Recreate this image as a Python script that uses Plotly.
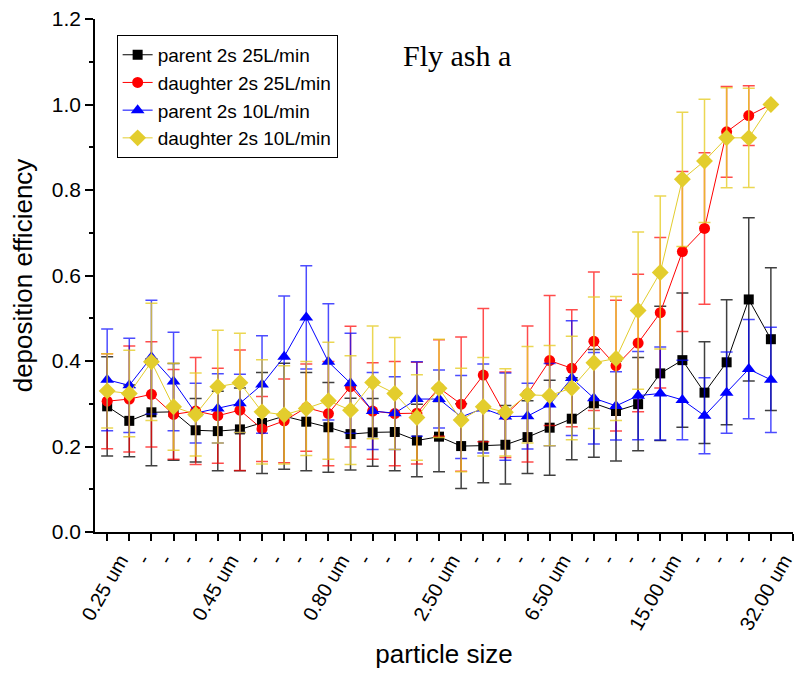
import plotly.graph_objects as go

# ---- data ----
size_labels = ["0.25 um", "-", "-", "-", "-",
               "0.45 um", "-", "-", "-", "-",
               "0.80 um", "-", "-", "-", "-",
               "2.50 um", "-", "-", "-", "-",
               "6.50 um", "-", "-", "-", "-",
               "15.00 um", "-", "-", "-", "-",
               "32.00 um", "-"]

parent_25 = [0.294, 0.260, 0.280, 0.281, 0.238, 0.236, 0.240, 0.255, 0.271, 0.258,
             0.245, 0.229, 0.233, 0.234, 0.214, 0.223, 0.201, 0.202, 0.204, 0.222,
             0.244, 0.265, 0.301, 0.283, 0.299, 0.371, 0.402, 0.326, 0.397, 0.544, 0.451]
parent_25_err = [0.116, 0.084, 0.125, 0.113, 0.074, 0.093, 0.097, 0.118, 0.124, 0.115,
                 0.105, 0.084, 0.079, 0.091, 0.085, 0.082, 0.099, 0.087, 0.092, 0.085,
                 0.111, 0.096, 0.126, 0.117, 0.109, 0.157, 0.157, 0.119, 0.146, 0.191, 0.167]

daughter_25 = [0.306, 0.311, 0.322, 0.275, 0.283, 0.272, 0.285, 0.241, 0.260, 0.291,
               0.277, 0.340, 0.283, 0.277, 0.278, 0.337, 0.299, 0.367, 0.274, 0.323,
               0.401, 0.383, 0.446, 0.389, 0.442, 0.513, 0.656, 0.710, 0.936, 0.974, 1.000]
daughter_25_err = [0.111, 0.124, 0.123, 0.105, 0.125, 0.111, 0.141, 0.076, 0.098, 0.102,
                   0.122, 0.141, 0.113, 0.122, 0.119, 0.113, 0.157, 0.156, 0.100, 0.159,
                   0.152, 0.137, 0.162, 0.153, 0.161, 0.176, 0.187, 0.177, 0.106, 0.070, 0.0]

parent_10 = [0.356, 0.343, 0.409, 0.352, 0.278, 0.289, 0.301, 0.345, 0.410, 0.502,
             0.398, 0.348, 0.283, 0.278, 0.311, 0.311, 0.269, 0.289, 0.270, 0.271,
             0.298, 0.360, 0.313, 0.295, 0.319, 0.324, 0.309, 0.272, 0.326, 0.381, 0.356]
parent_10_err = [0.119, 0.110, 0.133, 0.115, 0.070, 0.081, 0.068, 0.114, 0.142, 0.121,
                 0.136, 0.117, 0.090, 0.085, 0.087, 0.068, 0.097, 0.104, 0.102, 0.077,
                 0.096, 0.134, 0.107, 0.080, 0.103, 0.109, 0.093, 0.089, 0.095, 0.116, 0.123]

daughter_10 = [0.330, 0.324, 0.398, 0.293, 0.275, 0.340, 0.349, 0.281, 0.274, 0.289,
               0.307, 0.285, 0.350, 0.324, 0.268, 0.336, 0.262, 0.293, 0.280, 0.321,
               0.319, 0.337, 0.396, 0.406, 0.518, 0.607, 0.825, 0.868, 0.922, 0.922, 1.000]
daughter_10_err = [0.087, 0.101, 0.137, 0.102, 0.097, 0.132, 0.116, 0.122, 0.115, 0.110,
                   0.137, 0.127, 0.132, 0.131, 0.100, 0.115, 0.121, 0.115, 0.102, 0.113,
                   0.117, 0.121, 0.154, 0.145, 0.184, 0.179, 0.157, 0.144, 0.117, 0.116, 0.0]

x_idx = list(range(len(parent_25)))
tick_idx = list(range(len(size_labels)))

series = [
    ("parent 2s 25L/min", parent_25, parent_25_err, "#000000", "rgba(0,0,0,0.75)", "square", 10),
    ("daughter 2s 25L/min", daughter_25, daughter_25_err, "#FF0000", "rgba(255,0,0,0.7)", "circle", 11),
    ("parent 2s 10L/min", parent_10, parent_10_err, "#0000FF", "rgba(0,0,255,0.7)", "triangle-up", 12),
    ("daughter 2s 10L/min", daughter_10, daughter_10_err, "#E3CD2D", "rgba(230,205,40,0.8)", "diamond", 13),
]

fig = go.Figure()
for name, y, err, col, ecol, sym, sz in series:
    fig.add_trace(go.Scatter(
        x=x_idx, y=y, name=name, mode="lines+markers",
        line=dict(color=col, width=1),
        marker=dict(symbol=sym, size=sz, color=col, line=dict(width=0)),
        error_y=dict(type="data", array=err, visible=True, color=ecol,
                     thickness=1.5, width=6),
    ))

font_sans = "Liberation Sans, Arial, sans-serif"

# page body adds an 8px margin, so the figure is 8px smaller than the window
fig.update_layout(
    width=801, height=665,
    margin=dict(l=87, r=16, t=11, b=141),
    paper_bgcolor="white", plot_bgcolor="white",
    font=dict(family=font_sans, color="black", size=20),
    showlegend=True,
    legend=dict(x=0.031, y=0.969, xanchor="left", yanchor="top",
                bordercolor="black", borderwidth=1, bgcolor="white",
                font=dict(family=font_sans, size=19, color="black"),
                tracegroupgap=0),
    xaxis=dict(
        range=[-0.55, 31.0], automargin=False, ticklabeloverflow="allow",
        tickmode="array", tickvals=tick_idx, ticktext=size_labels,
        tickangle=-60, ticklabelshift=13, ticks="outside", ticklen=7, tickwidth=1.5,
        tickcolor="black", showline=True, linecolor="black", linewidth=1.5,
        showgrid=False, zeroline=False,
        tickfont=dict(family=font_sans, size=20, color="black"),
        title=dict(text="particle size", font=dict(family=font_sans, size=26),
                   standoff=12),
    ),
    yaxis=dict(
        range=[0, 1.2], dtick=0.2, tick0=0, tickformat=".1f", automargin=False,
        ticklabeloverflow="allow",
        ticks="outside", ticklen=8, tickwidth=1.5, tickcolor="black",
        showline=True, linecolor="black", linewidth=1.5,
        showgrid=False, zeroline=False,
        minor=dict(dtick=0.1, ticks="outside", ticklen=4, tickwidth=1.5,
                   tickcolor="black", showgrid=False),
        tickfont=dict(family=font_sans, size=21, color="black"),
        title=dict(text="deposition efficiency", font=dict(family=font_sans, size=26),
                   standoff=16),
    ),
    annotations=[dict(text="Fly ash a", x=0.519, y=0.928, xref="paper", yref="paper",
                      xanchor="center", yanchor="middle", showarrow=False,
                      font=dict(family="Liberation Serif, Times New Roman, serif",
                                size=30, color="black"))],
)

fig.write_html("out.html")
